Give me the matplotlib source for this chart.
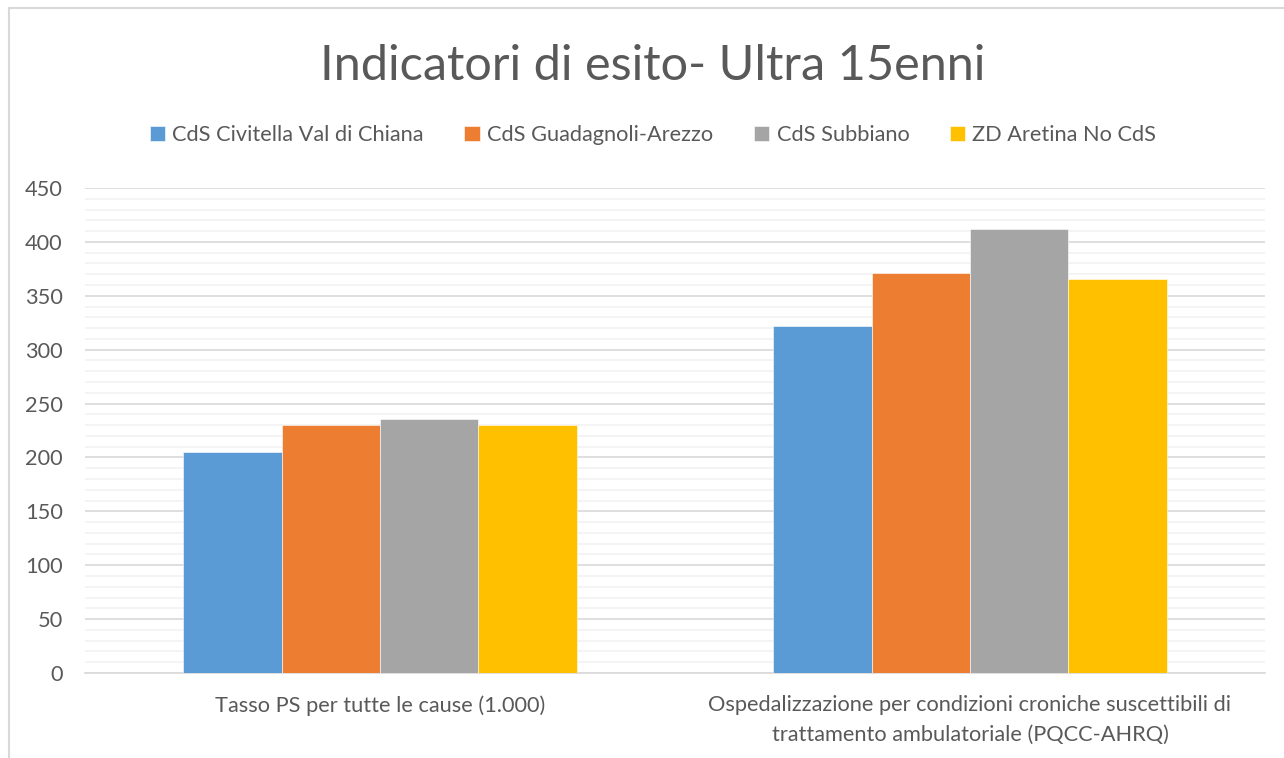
import matplotlib.pyplot as plt
import matplotlib.patches as mpatches
import numpy as np

categories = ["Tasso PS per tutte le cause (1.000)",
              "Ospedalizzazione per condizioni croniche suscettibili di\ntrattamento ambulatoriale (PQCC-AHRQ)"]
series_names = ["CdS Civitella Val di Chiana", "CdS Guadagnoli-Arezzo",
                "CdS Subbiano", "ZD Aretina No CdS"]
civitella = [205, 322]
guadagnoli = [230, 371]
subbiano = [236, 412]
aretina_no_cds = [230, 366]

colors = ["#5B9BD5", "#ED7D31", "#A5A5A5", "#FFC000"]
text_col = "#595959"
fs = 15.7

plt.rcParams['font.family'] = ['Lato', 'DejaVu Sans']

fig = plt.figure(figsize=(12.84, 7.58), dpi=100)
ax = fig.add_axes([85 / 1284, 1 - 673 / 758, 1180 / 1284, (673 - 188) / 758])

# chart border like the Excel frame
fig.patches.append(mpatches.Rectangle((9 / 1284, -0.1), 1.2, 1 - 8 / 758 + 0.1,
                                      transform=fig.transFigure, fill=False,
                                      edgecolor="#D9D9D9", linewidth=1.5))

x = np.arange(len(categories))
w = 0.667 / 4
all_series = [civitella, guadagnoli, subbiano, aretina_no_cds]
for i, vals in enumerate(all_series):
    ax.bar(x + (i - 1.5) * w, vals, width=w, color=colors[i], label=series_names[i],
           edgecolor="white", linewidth=0.4, zorder=3)

ax.set_xlim(-0.5, 1.5)
ax.set_ylim(0, 450)
ax.set_yticks(range(0, 451, 50))
ax.set_yticks(range(0, 451, 10), minor=True)
ax.yaxis.grid(True, which="major", color="#D9D9D9", linewidth=1.2, zorder=0)
ax.yaxis.grid(True, which="minor", color="#F2F2F2", linewidth=1.2, zorder=0)
ax.tick_params(axis="y", which="both", length=0, labelsize=fs, labelcolor=text_col, pad=16)
ax.set_xticks(x)
ax.set_xticklabels(categories, fontsize=fs, color=text_col, linespacing=1.6)
ax.tick_params(axis="x", length=0, pad=16)
for s in ["top", "right", "left"]:
    ax.spines[s].set_visible(False)
ax.spines["bottom"].set_color("#D9D9D9")
ax.spines["bottom"].set_linewidth(1.2)

fig.text(653 / 1284, 1 - 66 / 758, "Indicatori di esito- Ultra 15enni", ha="center", va="center",
         fontsize=35, color=text_col, fontweight="normal")

fig.legend(loc="center", bbox_to_anchor=(653 / 1284, 1 - 135 / 758), ncol=4, frameon=False,
           fontsize=fs, labelcolor=text_col, handlelength=0.7, handleheight=0.7,
           handletextpad=0.35, columnspacing=1.85)

fig.savefig("out.png", dpi=100)
